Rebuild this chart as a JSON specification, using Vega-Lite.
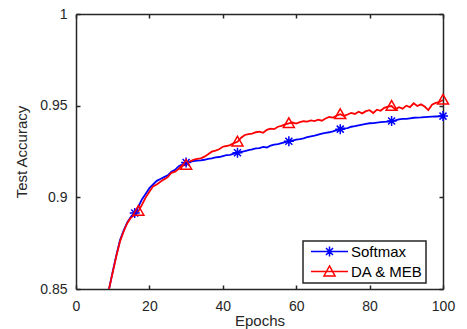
{
  "$schema": "https://vega.github.io/schema/vega-lite/v6.json",
  "width": 367,
  "height": 275,
  "autosize": {"type": "none"},
  "padding": {"left": 76, "top": 14, "right": 24, "bottom": 40},
  "background": "white",
  "config": {
    "font": "Liberation Sans",
    "view": {"stroke": null},
    "axis": {
      "grid": false,
      "domainColor": "#262626",
      "domainWidth": 1.5,
      "tickColor": "#262626",
      "tickWidth": 1.5,
      "tickSize": -4,
      "labelColor": "#262626",
      "labelFont": "Liberation Sans",
      "labelFontSize": 14,
      "titleFont": "Liberation Sans",
      "titleFontSize": 15,
      "titleFontWeight": "normal",
      "titleColor": "#262626"
    }
  },
  "data": {
    "values": [
      {"e": 8, "Softmax": 0.842, "DA & MEB": 0.842},
      {"e": 9, "Softmax": 0.85, "DA & MEB": 0.85},
      {"e": 10, "Softmax": 0.8595, "DA & MEB": 0.859},
      {"e": 11, "Softmax": 0.8685, "DA & MEB": 0.868},
      {"e": 12, "Softmax": 0.8767, "DA & MEB": 0.876},
      {"e": 13, "Softmax": 0.882, "DA & MEB": 0.8815},
      {"e": 14, "Softmax": 0.8865, "DA & MEB": 0.886},
      {"e": 15, "Softmax": 0.8895, "DA & MEB": 0.889},
      {"e": 16, "Softmax": 0.8915, "DA & MEB": 0.8905},
      {"e": 17, "Softmax": 0.895, "DA & MEB": 0.8925},
      {"e": 18, "Softmax": 0.899, "DA & MEB": 0.896},
      {"e": 19, "Softmax": 0.902, "DA & MEB": 0.9},
      {"e": 20, "Softmax": 0.905, "DA & MEB": 0.903},
      {"e": 21, "Softmax": 0.907, "DA & MEB": 0.906},
      {"e": 22, "Softmax": 0.909, "DA & MEB": 0.907},
      {"e": 23, "Softmax": 0.91, "DA & MEB": 0.9085},
      {"e": 24, "Softmax": 0.911, "DA & MEB": 0.9098},
      {"e": 25, "Softmax": 0.912, "DA & MEB": 0.911},
      {"e": 26, "Softmax": 0.914, "DA & MEB": 0.9134},
      {"e": 27, "Softmax": 0.915, "DA & MEB": 0.914},
      {"e": 28, "Softmax": 0.917, "DA & MEB": 0.9155},
      {"e": 29, "Softmax": 0.918, "DA & MEB": 0.9175},
      {"e": 30, "Softmax": 0.919, "DA & MEB": 0.9176},
      {"e": 31, "Softmax": 0.9194, "DA & MEB": 0.9195},
      {"e": 32, "Softmax": 0.9198, "DA & MEB": 0.9205},
      {"e": 33, "Softmax": 0.92, "DA & MEB": 0.921},
      {"e": 34, "Softmax": 0.9202, "DA & MEB": 0.9213},
      {"e": 35, "Softmax": 0.9205, "DA & MEB": 0.9222},
      {"e": 36, "Softmax": 0.921, "DA & MEB": 0.9235},
      {"e": 37, "Softmax": 0.9212, "DA & MEB": 0.9249},
      {"e": 38, "Softmax": 0.9218, "DA & MEB": 0.9255},
      {"e": 39, "Softmax": 0.922, "DA & MEB": 0.9262},
      {"e": 40, "Softmax": 0.9225, "DA & MEB": 0.9276},
      {"e": 41, "Softmax": 0.923, "DA & MEB": 0.928},
      {"e": 42, "Softmax": 0.9232, "DA & MEB": 0.9285},
      {"e": 43, "Softmax": 0.9238, "DA & MEB": 0.9296},
      {"e": 44, "Softmax": 0.9243, "DA & MEB": 0.9303},
      {"e": 45, "Softmax": 0.9248, "DA & MEB": 0.9325},
      {"e": 46, "Softmax": 0.9252, "DA & MEB": 0.934},
      {"e": 47, "Softmax": 0.9258, "DA & MEB": 0.9345},
      {"e": 48, "Softmax": 0.9262, "DA & MEB": 0.9348},
      {"e": 49, "Softmax": 0.9267, "DA & MEB": 0.9355},
      {"e": 50, "Softmax": 0.9268, "DA & MEB": 0.9358},
      {"e": 51, "Softmax": 0.9275, "DA & MEB": 0.9352},
      {"e": 52, "Softmax": 0.9272, "DA & MEB": 0.9368},
      {"e": 53, "Softmax": 0.9282, "DA & MEB": 0.9375},
      {"e": 54, "Softmax": 0.9287, "DA & MEB": 0.9372},
      {"e": 55, "Softmax": 0.929, "DA & MEB": 0.9385},
      {"e": 56, "Softmax": 0.9296, "DA & MEB": 0.939},
      {"e": 57, "Softmax": 0.9301, "DA & MEB": 0.9398},
      {"e": 58, "Softmax": 0.9306, "DA & MEB": 0.9404},
      {"e": 59, "Softmax": 0.931, "DA & MEB": 0.9408},
      {"e": 60, "Softmax": 0.9315, "DA & MEB": 0.9402},
      {"e": 61, "Softmax": 0.9318, "DA & MEB": 0.941},
      {"e": 62, "Softmax": 0.9322, "DA & MEB": 0.9415},
      {"e": 63, "Softmax": 0.9328, "DA & MEB": 0.9413},
      {"e": 64, "Softmax": 0.9333, "DA & MEB": 0.942},
      {"e": 65, "Softmax": 0.9336, "DA & MEB": 0.9416},
      {"e": 66, "Softmax": 0.9342, "DA & MEB": 0.9424},
      {"e": 67, "Softmax": 0.9348, "DA & MEB": 0.9418},
      {"e": 68, "Softmax": 0.9352, "DA & MEB": 0.943},
      {"e": 69, "Softmax": 0.9355, "DA & MEB": 0.9438},
      {"e": 70, "Softmax": 0.936, "DA & MEB": 0.9435},
      {"e": 71, "Softmax": 0.9366, "DA & MEB": 0.9445},
      {"e": 72, "Softmax": 0.9372, "DA & MEB": 0.9453},
      {"e": 73, "Softmax": 0.9376, "DA & MEB": 0.9444},
      {"e": 74, "Softmax": 0.9378, "DA & MEB": 0.9452},
      {"e": 75, "Softmax": 0.9385, "DA & MEB": 0.946},
      {"e": 76, "Softmax": 0.9388, "DA & MEB": 0.9455},
      {"e": 77, "Softmax": 0.9393, "DA & MEB": 0.9467},
      {"e": 78, "Softmax": 0.9397, "DA & MEB": 0.9458},
      {"e": 79, "Softmax": 0.9401, "DA & MEB": 0.947},
      {"e": 80, "Softmax": 0.9404, "DA & MEB": 0.9475},
      {"e": 81, "Softmax": 0.9405, "DA & MEB": 0.946},
      {"e": 82, "Softmax": 0.9408, "DA & MEB": 0.9478},
      {"e": 83, "Softmax": 0.941, "DA & MEB": 0.9472},
      {"e": 84, "Softmax": 0.9412, "DA & MEB": 0.9488},
      {"e": 85, "Softmax": 0.9413, "DA & MEB": 0.9495},
      {"e": 86, "Softmax": 0.9416, "DA & MEB": 0.9498},
      {"e": 87, "Softmax": 0.942, "DA & MEB": 0.948},
      {"e": 88, "Softmax": 0.9425, "DA & MEB": 0.9492},
      {"e": 89, "Softmax": 0.9428, "DA & MEB": 0.9484},
      {"e": 90, "Softmax": 0.9428, "DA & MEB": 0.95},
      {"e": 91, "Softmax": 0.9431, "DA & MEB": 0.9492},
      {"e": 92, "Softmax": 0.9434, "DA & MEB": 0.9513},
      {"e": 93, "Softmax": 0.9435, "DA & MEB": 0.9498},
      {"e": 94, "Softmax": 0.9436, "DA & MEB": 0.9507},
      {"e": 95, "Softmax": 0.9438, "DA & MEB": 0.9495},
      {"e": 96, "Softmax": 0.9439, "DA & MEB": 0.9476},
      {"e": 97, "Softmax": 0.944, "DA & MEB": 0.9505},
      {"e": 98, "Softmax": 0.9441, "DA & MEB": 0.9515},
      {"e": 99, "Softmax": 0.9442, "DA & MEB": 0.952},
      {"e": 100, "Softmax": 0.9443, "DA & MEB": 0.9531}
    ]
  },
  "layer": [
    {
      "transform": [{"fold": ["Softmax", "DA & MEB"], "as": ["series", "acc"]}],
      "mark": {"type": "line", "clip": true, "strokeWidth": 1.8},
      "encoding": {
        "x": {
          "field": "e", "type": "quantitative",
          "scale": {"domain": [0, 100], "nice": false},
          "axis": {"values": [0, 20, 40, 60, 80, 100], "title": "Epochs", "labelPadding": 14, "titlePadding": 0, "labelFlush": false}
        },
        "y": {
          "field": "acc", "type": "quantitative",
          "scale": {"domain": [0.85, 1], "nice": false, "zero": false},
          "axis": {"values": [0.85, 0.9, 0.95, 1], "format": "~g", "title": "Test Accuracy", "labelPadding": 13, "titlePadding": 10, "labelFlush": false}
        },
        "color": {
          "field": "series", "type": "nominal",
          "scale": {"domain": ["Softmax", "DA & MEB"], "range": ["#0000ff", "#ff0000"]},
          "legend": {
            "title": null,
            "orient": "none",
            "legendX": 227,
            "legendY": 227,
            "padding": 3,
            "strokeColor": "#262626",
            "fillColor": "white",
            "labelFont": "Liberation Sans",
            "labelFontSize": 15,
            "labelColor": "black",
            "clipHeight": 15,
            "rowPadding": 4,
            "symbolSize": 1369,
            "symbolStrokeWidth": 1.5,
            "labelOffset": 2,
            "symbolOffset": 4,
            "encode": {
              "symbols": {
                "update": {
                  "shape": {"signal": "datum.value === 'Softmax' ? 'M-1,0L1,0M-0.27,0L0.27,0M0,-0.27L0,0.27M-0.19,-0.19L0.19,0.19M-0.19,0.19L0.19,-0.19' : 'M-1,0L1,0M0,-0.3L0.3,0.24L-0.3,0.24Z'"},
                  "fill": {"value": "transparent"}
                }
              },
              "legend": {"update": {"strokeWidth": {"value": 1.5}}}
            }
          }
        }
      }
    },
    {
      "transform": [{"filter": {"field": "e", "oneOf": [16, 30, 44, 58, 72, 86, 100]}}],
      "mark": {"type": "point", "shape": "M-1,0L1,0M0,-1L0,1M-0.7,-0.7L0.7,0.7M-0.7,0.7L0.7,-0.7", "size": 100, "stroke": "#0000ff", "strokeWidth": 1.5, "filled": false, "opacity": 1},
      "encoding": {
        "x": {"field": "e", "type": "quantitative", "scale": {"domain": [0, 100], "nice": false},
              "axis": {"orient": "top", "labels": false, "title": null, "values": [0, 20, 40, 60, 80, 100]}},
        "y": {"field": "Softmax", "type": "quantitative", "scale": {"domain": [0.85, 1], "nice": false, "zero": false},
              "axis": {"orient": "right", "labels": false, "title": null, "values": [0.85, 0.9, 0.95, 1]}}
      }
    },
    {
      "transform": [{"filter": {"field": "e", "oneOf": [17, 30, 44, 58, 72, 86, 100]}}],
      "mark": {"type": "point", "shape": "M0,-1L1,0.75L-1,0.75Z", "size": 121, "stroke": "#ff0000", "strokeWidth": 1.5, "filled": false, "opacity": 1},
      "encoding": {
        "x": {"field": "e", "type": "quantitative", "scale": {"domain": [0, 100], "nice": false}, "axis": null},
        "y": {"field": "DA & MEB", "type": "quantitative", "scale": {"domain": [0.85, 1], "nice": false, "zero": false}, "axis": null}
      }
    }
  ],
  "resolve": {"axis": {"x": "independent", "y": "independent"}}
}
